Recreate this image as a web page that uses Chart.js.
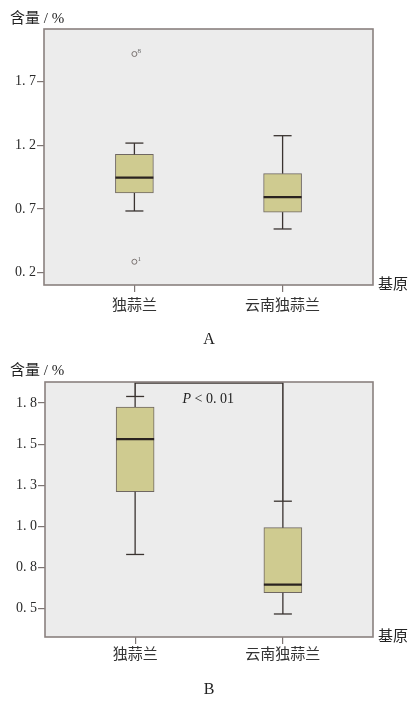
<!DOCTYPE html>
<html><head><meta charset="utf-8">
<script src="https://cdn.jsdelivr.net/npm/chart.js@4.4.1/dist/chart.umd.min.js"></script>
<style>
html,body{margin:0;padding:0;background:#fff;width:410px;height:701px;overflow:hidden}
.wrap{position:absolute;left:0;width:410px;height:350px}
canvas{display:block}
</style></head><body>
<div class="wrap" style="top:0"><canvas id="cA" width="410" height="350"></canvas></div>
<div class="wrap" style="top:351px"><canvas id="cB" width="410" height="350"></canvas></div>
<script>
// ---------- data ----------
const categories = ['独蒜兰', '云南独蒜兰'];
const yTitle = '含量 / %';
const xTitle = '基原';

// Panel A
const aMin    = [0.684, 0.543];
const aQ1     = [0.825, 0.675];
const aMedian = [0.945, 0.792];
const aQ3     = [1.127, 0.977];
const aMax    = [1.216, 1.274];
const aOutlierX = [1, 1];
const aOutlierY = [1.914, 0.286];
const aOutlierLabels = ['8', '1'];
const aTicks = [0.2, 0.7, 1.2, 1.7];
const aTickLabels = ['0. 2', '0. 7', '1. 2', '1. 7'];

// Panel B
const bMin    = [0.829, 0.467];
const bQ1     = [1.211, 0.596];
const bMedian = [1.530, 0.645];
const bQ3     = [1.726, 0.992];
const bMax    = [1.790, 1.153];
const bTicks = [0.5, 0.75, 1.0, 1.25, 1.5, 1.75];
const bTickLabels = ['0. 5', '0. 8', '1. 0', '1. 3', '1. 5', '1. 8'];
const bBracketLevel = 1.872;
const bPItalic = 'P';
const bPRest = ' < 0. 01';

// ---------- drawing ----------
const SERIF = '"Liberation Serif","DejaVu Serif","Noto Sans CJK SC"';
const W = 410, H = 350;

function makeChart(id, o) {
  const cv = document.getElementById(id);
  const boxes = o.q1.map((v, i) => ({x: i + 1, y: [v, o.q3[i]]}));
  const datasets = [{
    type: 'bar', data: boxes,
    backgroundColor: '#cfcb90', borderColor: '#6f6762', borderWidth: 1,
    borderSkipped: false, barThickness: 38
  }];
  if (o.outY) {
    datasets.push({
      type: 'scatter',
      data: o.outY.map((v, i) => ({x: o.outX[i], y: v})),
      pointRadius: 2.5, pointBackgroundColor: 'rgba(0,0,0,0)',
      pointBorderColor: '#7a7270', pointBorderWidth: 1
    });
  }
  const boxPlugin = {
    id: 'boxparts',
    beforeDraw(chart) {
      const {ctx, chartArea: a} = chart;
      ctx.save();
      ctx.fillStyle = '#ececec';
      ctx.fillRect(a.left, a.top, a.right - a.left, a.bottom - a.top);
      ctx.restore();
    },
    afterDatasetsDraw(chart) {
      const {ctx, scales: {x, y}} = chart;
      ctx.save();
      ctx.strokeStyle = '#3a3330';
      ctx.lineWidth = 1.3;
      o.q1.forEach((q1, i) => {
        const cx = x.getPixelForValue(i + 1);
        const ln = (x1, y1, x2, y2) => { ctx.beginPath(); ctx.moveTo(x1, y1); ctx.lineTo(x2, y2); ctx.stroke(); };
        ln(cx, y.getPixelForValue(o.q3[i]), cx, y.getPixelForValue(o.max[i]));
        ln(cx, y.getPixelForValue(q1), cx, y.getPixelForValue(o.min[i]));
        ln(cx - 9, y.getPixelForValue(o.max[i]), cx + 9, y.getPixelForValue(o.max[i]));
        ln(cx - 9, y.getPixelForValue(o.min[i]), cx + 9, y.getPixelForValue(o.min[i]));
      });
      ctx.lineWidth = 2.2;
      ctx.strokeStyle = '#2a2320';
      o.median.forEach((m, i) => {
        const cx = x.getPixelForValue(i + 1);
        const py = y.getPixelForValue(m);
        ctx.beginPath(); ctx.moveTo(cx - 19, py); ctx.lineTo(cx + 19, py); ctx.stroke();
      });
      if (o.bracket) {
        ctx.lineWidth = 1.5;
        ctx.strokeStyle = '#3a3330';
        const x1 = x.getPixelForValue(1), x2 = x.getPixelForValue(2);
        const yb = y.getPixelForValue(o.bracket);
        ctx.beginPath();
        ctx.moveTo(x1, y.getPixelForValue(o.max[0]));
        ctx.lineTo(x1, yb); ctx.lineTo(x2, yb);
        ctx.lineTo(x2, y.getPixelForValue(o.max[1]));
        ctx.stroke();
        ctx.fillStyle = '#222';
        ctx.textBaseline = 'middle';
        ctx.font = 'italic 14px ' + SERIF;
        const wP = ctx.measureText(bPItalic).width;
        ctx.font = '14px ' + SERIF;
        const wR = ctx.measureText(bPRest).width;
        const tx = x.getPixelForValue(1.495) - (wP + wR) / 2;
        const ty = y.getPixelForValue(1.772);
        ctx.font = 'italic 14px ' + SERIF;
        ctx.textAlign = 'left';
        ctx.fillText(bPItalic, tx, ty);
        ctx.font = '14px ' + SERIF;
        ctx.fillText(bPRest, tx + wP, ty);
      }
      if (o.outLabels) {
        ctx.fillStyle = '#666';
        ctx.font = '7px ' + SERIF;
        ctx.textAlign = 'left';
        ctx.textBaseline = 'middle';
        o.outY.forEach((v, i) => {
          ctx.fillText(o.outLabels[i], x.getPixelForValue(o.outX[i]) + 3, y.getPixelForValue(v) - 3);
        });
      }
      ctx.restore();
    },
    afterDraw(chart) {
      const {ctx, chartArea: a} = chart;
      ctx.save();
      ctx.strokeStyle = '#8a817f';
      ctx.lineWidth = 1.6;
      ctx.strokeRect(a.left, a.top, a.right - a.left, a.bottom - a.top);
      ctx.fillStyle = '#222';
      ctx.textBaseline = 'middle';
      ctx.textAlign = 'left';
      ctx.font = '15px ' + SERIF;
      ctx.fillText(yTitle, 10, o.titleY);
      ctx.fillText(xTitle, 378, a.bottom);
      ctx.textAlign = 'center';
      ctx.font = '16px ' + SERIF;
      ctx.fillText(o.panel, 209, o.panelY);
      ctx.restore();
    }
  };
  return new Chart(cv, {
    data: {datasets},
    options: {
      responsive: false, animation: false, events: [],
      layout: {padding: {left: 0, top: o.top, right: W - o.right, bottom: 0}},
      plugins: {legend: {display: false}, tooltip: {enabled: false}},
      scales: {
        x: {
          type: 'linear', min: 0.39, max: 2.61, offset: false,
          afterBuildTicks: s => { s.ticks = [{value: 1}, {value: 2}]; },
          afterFit: s => { s.height = H - o.bottom; },
          grid: {drawOnChartArea: false, offset: false, tickLength: 7, color: '#7d7573', lineWidth: 1.2},
          border: {display: false},
          ticks: {padding: o.xPad, font: {family: SERIF, size: 15}, color: '#333',
                  maxRotation: 0, autoSkip: false, callback: v => categories[Math.round(v) - 1]}
        },
        y: {
          min: o.ymin, max: o.ymax,
          afterBuildTicks: s => { s.ticks = o.ticks.map(v => ({value: v})); },
          afterFit: s => { s.width = o.left; },
          grid: {drawOnChartArea: false, tickLength: 7, color: '#7d7573', lineWidth: 1.2},
          border: {display: false},
          ticks: {padding: 1, font: {family: SERIF, size: 14}, color: '#2a2a2a', autoSkip: false,
                  callback: v => { const k = o.ticks.findIndex(t => Math.abs(t - v) < 1e-9); return k >= 0 ? o.tickLabels[k] : ''; }}
        }
      }
    },
    plugins: [boxPlugin]
  });
}

makeChart('cA', {
  q1: aQ1, q3: aQ3, median: aMedian, min: aMin, max: aMax,
  outX: aOutlierX, outY: aOutlierY, outLabels: aOutlierLabels,
  ticks: aTicks, tickLabels: aTickLabels, ymin: 0.104, ymax: 2.11,
  left: 44, right: 373, top: 29, bottom: 285, xPad: 5,
  titleY: 19, panel: 'A', panelY: 340
});
makeChart('cB', {
  q1: bQ1, q3: bQ3, median: bMedian, min: bMin, max: bMax,
  bracket: bBracketLevel,
  ticks: bTicks, tickLabels: bTickLabels, ymin: 0.327, ymax: 1.878,
  left: 45, right: 373, top: 31, bottom: 286, xPad: 2,
  titleY: 20, panel: 'B', panelY: 339
});
</script>
</body></html>
